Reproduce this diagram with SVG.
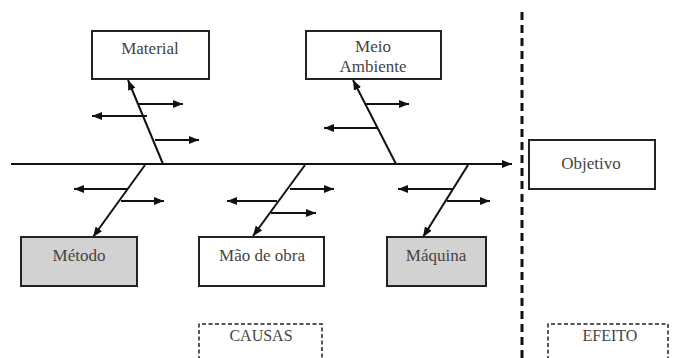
<svg xmlns="http://www.w3.org/2000/svg" width="673" height="358" viewBox="0 0 673 358">
<defs>
<marker id="ah" markerUnits="userSpaceOnUse" markerWidth="10" markerHeight="8" refX="10" refY="4" orient="auto">
<path d="M0,0 L10,4 L0,8 z" fill="#111"/>
</marker>
<style>
.box{fill:#fff;stroke:#222;stroke-width:2}
.grey{fill:#d2d2d2}
.lbl{font-family:"Liberation Serif","Times New Roman",serif;font-size:17px;fill:#444;text-anchor:middle}
.sm{font-size:16px}
.ln{stroke:#111;stroke-width:2;fill:none;marker-end:url(#ah)}
.dash{stroke:#222;stroke-width:1.5;fill:none;stroke-dasharray:4 2.5}
</style>
</defs>
<rect width="673" height="358" fill="#fff"/>
<g id="connectors">
<line x1="11" y1="164" x2="512" y2="164" class="ln"/>
<line x1="163" y1="164" x2="128" y2="80" class="ln"/>
<line x1="145" y1="165" x2="93" y2="237" class="ln"/>
<line x1="305" y1="165" x2="253" y2="236" class="ln"/>
<line x1="396" y1="164" x2="353" y2="80" class="ln"/>
<line x1="468" y1="165" x2="423" y2="237" class="ln"/>
<line x1="138" y1="104" x2="183" y2="104" class="ln"/>
<line x1="147" y1="116" x2="92" y2="116" class="ln"/>
<line x1="155" y1="140" x2="199" y2="140" class="ln"/>
<line x1="128" y1="189" x2="74" y2="189" class="ln"/>
<line x1="121" y1="201" x2="164" y2="201" class="ln"/>
<line x1="277" y1="201" x2="227" y2="201" class="ln"/>
<line x1="290" y1="189" x2="334" y2="189" class="ln"/>
<line x1="271" y1="213" x2="316" y2="213" class="ln"/>
<line x1="365" y1="104" x2="409" y2="104" class="ln"/>
<line x1="378" y1="128" x2="324" y2="128" class="ln"/>
<line x1="452" y1="189" x2="398" y2="189" class="ln"/>
<line x1="447" y1="201" x2="490" y2="201" class="ln"/>
</g>
<line id="divider" x1="522" y1="12" x2="522" y2="358" stroke="#111" stroke-width="3" stroke-dasharray="8 5"/>
<g id="material"><rect x="92" y="31" width="117" height="48" class="box"/><text x="150" y="54" class="lbl">Material</text></g>
<g id="meio-ambiente"><rect x="306" y="31" width="135" height="48" class="box"/><text x="373" y="52" class="lbl">Meio</text><text x="373" y="72" class="lbl">Ambiente</text></g>
<g id="metodo"><rect x="21" y="237" width="116" height="49" class="box grey"/><text x="79" y="261" class="lbl">Método</text></g>
<g id="mao-de-obra"><rect x="199" y="237" width="125" height="49" class="box"/><text x="262" y="261" class="lbl">Mão de obra</text></g>
<g id="maquina"><rect x="387" y="237" width="99" height="49" class="box grey"/><text x="436" y="261" class="lbl">Máquina</text></g>
<g id="objetivo"><rect x="529" y="140" width="126" height="49" class="box"/><text x="591" y="169" class="lbl">Objetivo</text></g>
<g id="causas"><path d="M199,360 V324 H322 V360" class="dash"/><text x="261" y="341" class="lbl sm">CAUSAS</text></g>
<g id="efeito"><path d="M548,360 V324 H668 V360" class="dash"/><text x="610" y="341" class="lbl sm">EFEITO</text></g>
</svg>
